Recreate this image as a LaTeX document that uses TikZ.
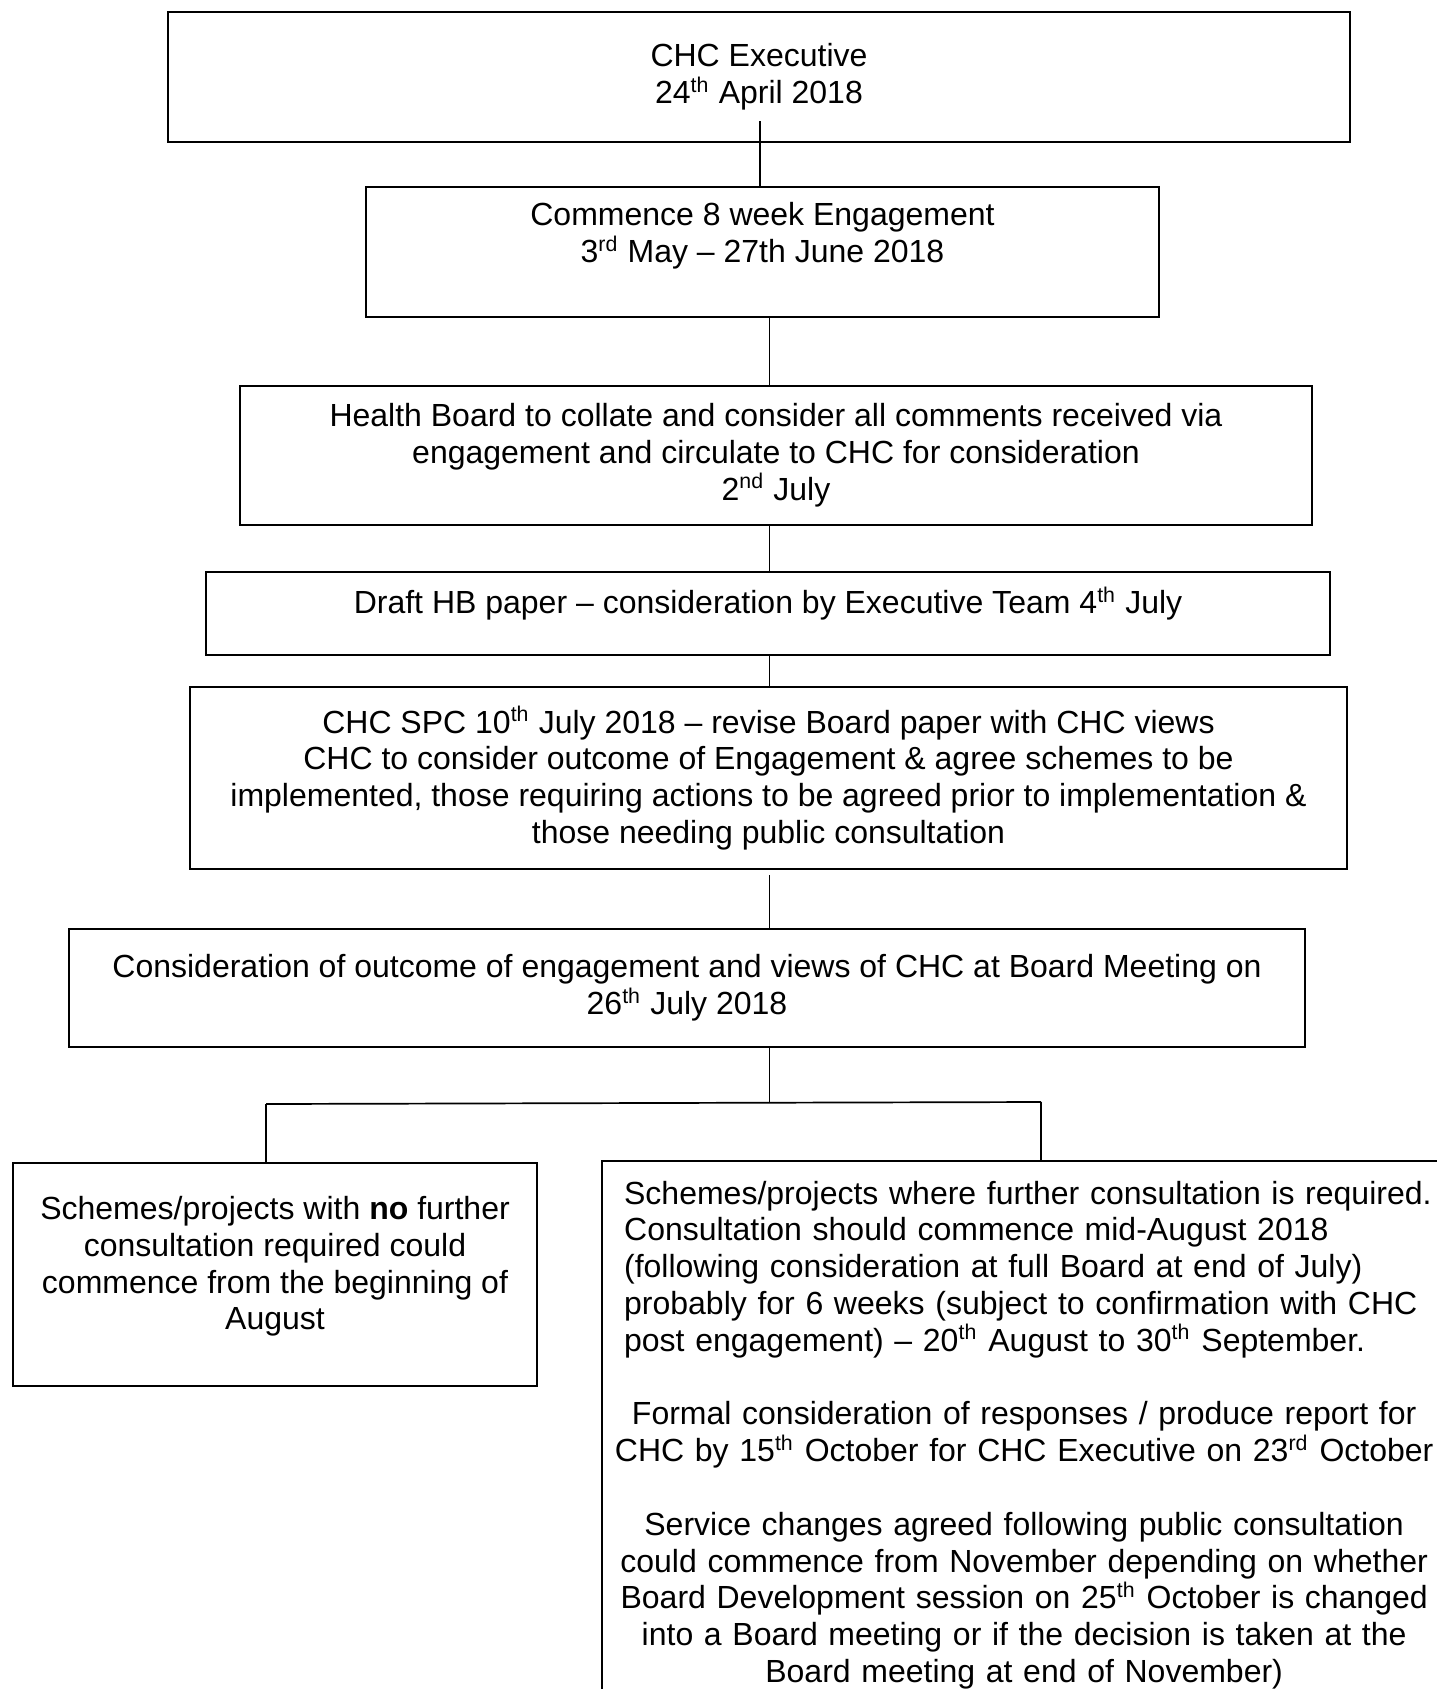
\documentclass[tikz,border=0pt]{standalone}
\usepackage{fontspec}
\setmainfont{Liberation Sans}

\begin{document}
\begin{tikzpicture}[x=0.375pt, y=-0.375pt,
                box/.style={draw, line width=0.86pt, align=center, inner sep=4pt,
                    font=\fontsize{12}{13.8}\selectfont},
                link/.style={line width=0.64pt}]
                \useasboundingbox (0,0) rectangle (1437,1689);
                \node[box, minimum width=443.25pt, minimum height=48.75pt] (a) at (759,77)
                    {CHC Executive\\24\textsuperscript{th} April 2018};
                \node[box, minimum width=297.4pt, minimum height=48.75pt, text depth=14.5pt] (b) at (762.5,252)
                    {Commence 8 week Engagement\\3\textsuperscript{rd} May – 27th June 2018};
                \node[box, minimum width=402pt, minimum height=52.1pt] (c) at (776,455.5)
                    {Health Board to collate and consider all comments received via\\
                     engagement and circulate to CHC for consideration\\
                     2\textsuperscript{nd} July};
                \node[box, minimum width=421.5pt, minimum height=31.1pt, text depth=10pt] (d) at (768,613.5)
                    {Draft HB paper – consideration by Executive Team 4\textsuperscript{th} July};
                \node[box, minimum width=433.9pt, minimum height=68.25pt] (e) at (768.5,778)
                    {CHC SPC 10\textsuperscript{th} July 2018 – revise Board paper with CHC views\\
                     CHC to consider outcome of Engagement \& agree schemes to be\\
                     implemented, those requiring actions to be agreed prior to implementation \&\\
                     those needing public consultation};
                \node[box, minimum width=463.5pt, minimum height=44.25pt] (f) at (687,988)
                    {Consideration of outcome of engagement and views of CHC at Board Meeting on\\
                     26\textsuperscript{th} July 2018};
                \node[box, minimum width=196.5pt, minimum height=83.6pt, text depth=8.5pt] (g) at (275,1274.5)
                    {Schemes/projects with \textbf{no} further\\
                     consultation required could\\
                     commence from the beginning of\\
                     August};
                \node[box, anchor=north west, align=left, text width=310pt, inner xsep=8.25pt, inner ysep=7.4pt] (h) at (601,1160)
                    {Schemes/projects where further consultation is required.\\
                     Consultation should commence mid-August 2018\\
                     (following consideration at full Board at end of July)\\
                     probably for 6 weeks (subject to confirmation with CHC\\
                     post engagement) – 20\textsuperscript{th} August to 30\textsuperscript{th} September.\par
                     \vspace{\baselineskip}\centering\leftskip=-10pt plus 1fil
                     Formal consideration of responses / produce report for\\
                     CHC by 15\textsuperscript{th} October for CHC Executive on 23\textsuperscript{rd} October\par
                     \vspace{\baselineskip}
                     Service changes agreed following public consultation\\
                     could commence from November depending on whether\\
                     Board Development session on 25\textsuperscript{th} October is changed\\
                     into a Board meeting or if the decision is taken at the\\
                     Board meeting at end of November)\par};
                % connectors
                \coordinate (top) at (760,121);
                \coordinate (spine) at (769.5,0);
                \coordinate (split) at (769.5,1103);
                \coordinate (lj) at (266,1104);
                \coordinate (rj) at (1041,1102);
                \draw[link] (top) -- (top |- b.north);
                \draw[link] (b.south -| spine) -- (c.north -| spine);
                \draw[link] (c.south -| spine) -- (d.north -| spine);
                \draw[link] (d.south -| spine) -- (e.north -| spine);
                \draw[link] ([yshift=-1.9pt]e.south -| spine) -- (f.north -| spine);
                \draw[link] (f.south -| spine) -- (split);
                \draw[link] (lj) -- (rj);
                \draw[link] (lj) -- (lj |- g.north);
                \draw[link] (rj) -- (rj |- h.north);
\end{tikzpicture}
\end{document}
